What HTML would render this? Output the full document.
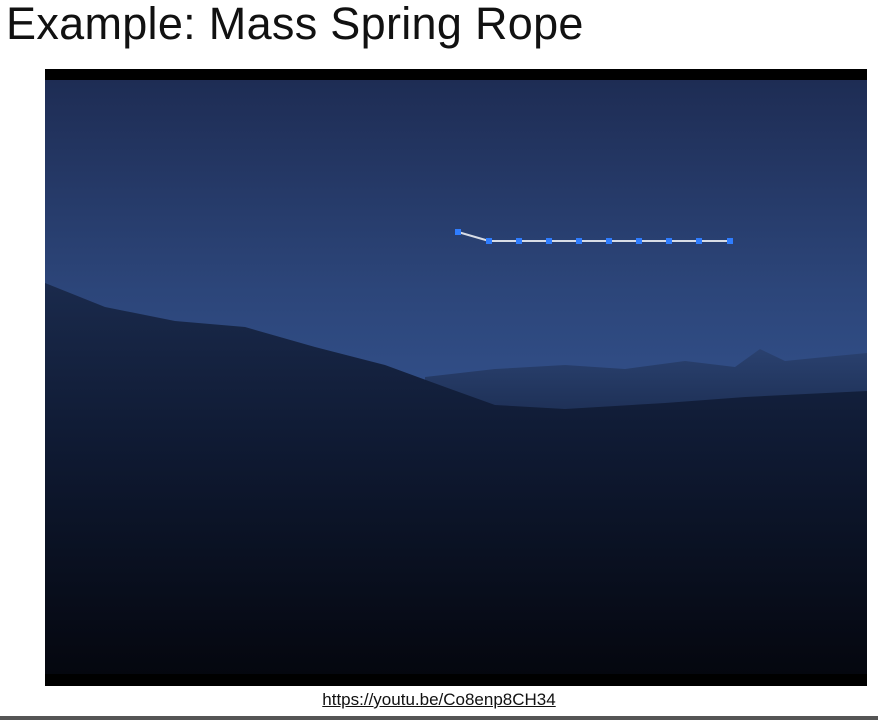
<!DOCTYPE html>
<html><head><meta charset="utf-8"><style>
body{margin:0;width:878px;height:720px;background:#fff;overflow:hidden;position:relative;font-family:"Liberation Sans",sans-serif}
#title{position:absolute;left:6px;top:-2px;font-size:45px;color:#111;margin:0;font-weight:normal;letter-spacing:0.3px}
#frame{position:absolute;left:45px;top:69px}
#link{position:absolute;left:0;width:878px;top:690px;text-align:center;font-size:17px;color:#111;text-decoration:underline}
#rule{position:absolute;left:0;top:716px;width:878px;height:4px;background:#555}
</style></head><body>
<h1 id="title">Example: Mass Spring Rope</h1>
<svg id="frame" width="822" height="617">
<defs>
<linearGradient id="sky" x1="0" y1="0" x2="0" y2="1">
<stop offset="0" stop-color="#1d2b52"/><stop offset="0.35" stop-color="#2c4579"/><stop offset="0.55" stop-color="#32508a"/><stop offset="1" stop-color="#2a4170"/></linearGradient>
<linearGradient id="ground" x1="0" y1="0" x2="0" y2="1">
<stop offset="0" stop-color="#1a2a4c"/><stop offset="0.4" stop-color="#0f1a33"/><stop offset="1" stop-color="#04060d"/></linearGradient>
<linearGradient id="far" x1="0" y1="0" x2="0" y2="1">
<stop offset="0" stop-color="#2a416f"/><stop offset="1" stop-color="#1b2c50"/></linearGradient>
</defs>
<rect width="822" height="617" fill="url(#sky)"/>
<rect width="822" height="11" fill="#000"/>
<path d="M380,308 L450,300 L520,296 L580,300 L640,292 L690,298 L715,280 L740,292 L780,288 L822,284 L822,360 L380,360Z" fill="url(#far)"/>
<path d="M0,214 L60,238 L130,252 L200,258 L270,278 L340,296 L400,318 L450,336 L520,340 L620,334 L700,328 L822,322 L822,617 L0,617Z" fill="url(#ground)"/>
<rect y="605" width="822" height="12" fill="#000"/>
<g id="rope"></g>
</svg>
<div id="link">https://youtu.be/Co8enp8CH34</div>
<div id="rule"></div>
<script>
const ropeX=[458,489,519,549,579,609,639,669,699,730];
const ropeY=[232,241,241,241,241,241,241,241,241,241];
const g=document.getElementById('rope');
const ns='http://www.w3.org/2000/svg';
const ox=45,oy=69;
let pts=ropeX.map((x,i)=>(x-ox)+','+(ropeY[i]-oy)).join(' ');
const pl=document.createElementNS(ns,'polyline');
pl.setAttribute('points',pts);pl.setAttribute('fill','none');pl.setAttribute('stroke','#d8dde6');pl.setAttribute('stroke-width','2');


g.appendChild(pl);
ropeX.forEach((x,i)=>{const r=document.createElementNS(ns,'rect');
r.setAttribute('x',x-ox-3);r.setAttribute('y',ropeY[i]-oy-3);r.setAttribute('width',6);r.setAttribute('height',6);r.setAttribute('fill','#2f7dff');


g.appendChild(r);});
</script>
</body></html>
